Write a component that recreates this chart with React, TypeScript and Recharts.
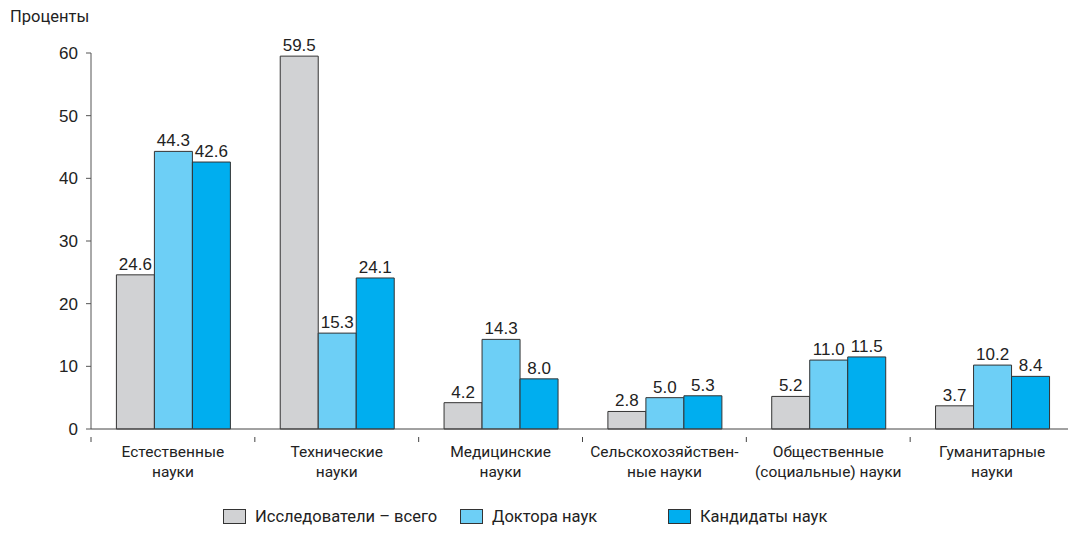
import React from "react";
import { BarChart, Bar, XAxis, YAxis, LabelList, Legend } from "recharts";

const categories: string[][] = [
  ["Естественные", "науки"],
  ["Технические", "науки"],
  ["Медицинские", "науки"],
  ["Сельскохозяйствен-", "ные науки"],
  ["Общественные", "(социальные) науки"],
  ["Гуманитарные", "науки"],
];
const researchers = [24.6, 59.5, 4.2, 2.8, 5.2, 3.7];
const doctors = [44.3, 15.3, 14.3, 5.0, 11.0, 10.2];
const candidates = [42.6, 24.1, 8.0, 5.3, 11.5, 8.4];
const yTicks = [0, 10, 20, 30, 40, 50, 60];
const seriesNames = ["Исследователи – всего", "Доктора наук", "Кандидаты наук"];
const seriesColors = ["#d1d2d4", "#6dcff6", "#00aeef"];

const data = categories.map((c, i) => ({
  key: String(i),
  lines: c,
  r: researchers[i],
  d: doctors[i],
  c: candidates[i],
}));

const NUM_FONT = "'Liberation Sans Narrow', 'Arial Narrow', 'Liberation Sans', sans-serif";
const TXT_FONT = "Roboto, 'Noto Sans', sans-serif";
const BAND = (1074 - 91) / 6;

const CatTick = (props: any) => {
  const { x, y, payload } = props;
  const lines = categories[Number(payload.value)] || [];
  const bx = x - BAND / 2;
  return (
    <g>
      <line x1={bx} y1={y} x2={bx} y2={y + 5} stroke="#444" strokeWidth={1} />
      {lines.map((l, i) => (
        <text
          key={i}
          x={x}
          y={y + 20 + i * 20}
          textAnchor="middle"
          fontFamily={TXT_FONT}
          fontSize={15.5}
          fill="#222"
        >
          {l}
        </text>
      ))}
    </g>
  );
};

const legendStarts = [223, 460, 668];

const LegendContent = () => (
  <div style={{ position: "relative", width: 1068, height: 24 }}>
    {seriesNames.map((n, i) => (
      <div
        key={n}
        style={{
          position: "absolute",
          left: legendStarts[i],
          top: 0,
          display: "flex",
          alignItems: "center",
          fontFamily: TXT_FONT,
          fontSize: 16.5,
          color: "#222",
          whiteSpace: "nowrap",
        }}
      >
        <span
          style={{
            display: "inline-block",
            width: 21,
            height: 13,
            background: seriesColors[i],
            border: "1px solid #333",
            marginRight: 9,
          }}
        />
        {n}
      </div>
    ))}
  </div>
);

export default function App() {
  return (
    <div
      style={{
        position: "absolute",
        left: 0,
        top: 0,
        width: 1068,
        height: 547,
        overflow: "hidden",
        background: "#fff",
      }}
    >
      <div
        style={{
          position: "absolute",
          left: 10,
          top: 7,
          fontFamily: TXT_FONT,
          fontSize: 16.5,
          color: "#222",
        }}
      >
        Проценты
      </div>
      <BarChart
        width={1074}
        height={547}
        data={data}
        margin={{ top: 53, right: 0, bottom: 0, left: 0 }}
        barCategoryGap="15.5%"
        barGap={0}
      >
        <YAxis
          width={91}
          domain={[0, 60]}
          ticks={yTicks}
          interval={0}
          tickSize={5}
          tickMargin={8}
          axisLine={{ stroke: "#555" }}
          tickLine={{ stroke: "#555" }}
          tick={{ fontFamily: NUM_FONT, fontSize: 17, fill: "#222" }}
        />
        <XAxis
          dataKey="key"
          height={94}
          interval={0}
          tickLine={false}
          axisLine={{ stroke: "#444" }}
          tick={<CatTick />}
        />
        <Legend
          verticalAlign="bottom"
          wrapperStyle={{ left: 0, top: 507, width: 1068 }}
          content={<LegendContent />}
        />
        <Bar dataKey="r" name={seriesNames[0]} fill={seriesColors[0]} stroke="#333" strokeWidth={1} isAnimationActive={false}>
          <LabelList dataKey="r" position="top" offset={5} formatter={(v: any) => Number(v).toFixed(1)} style={{ fontFamily: NUM_FONT, fontSize: 17, fill: "#222" }} />
        </Bar>
        <Bar dataKey="d" name={seriesNames[1]} fill={seriesColors[1]} stroke="#333" strokeWidth={1} isAnimationActive={false}>
          <LabelList dataKey="d" position="top" offset={5} formatter={(v: any) => Number(v).toFixed(1)} style={{ fontFamily: NUM_FONT, fontSize: 17, fill: "#222" }} />
        </Bar>
        <Bar dataKey="c" name={seriesNames[2]} fill={seriesColors[2]} stroke="#333" strokeWidth={1} isAnimationActive={false}>
          <LabelList dataKey="c" position="top" offset={5} formatter={(v: any) => Number(v).toFixed(1)} style={{ fontFamily: NUM_FONT, fontSize: 17, fill: "#222" }} />
        </Bar>
      </BarChart>
    </div>
  );
}
